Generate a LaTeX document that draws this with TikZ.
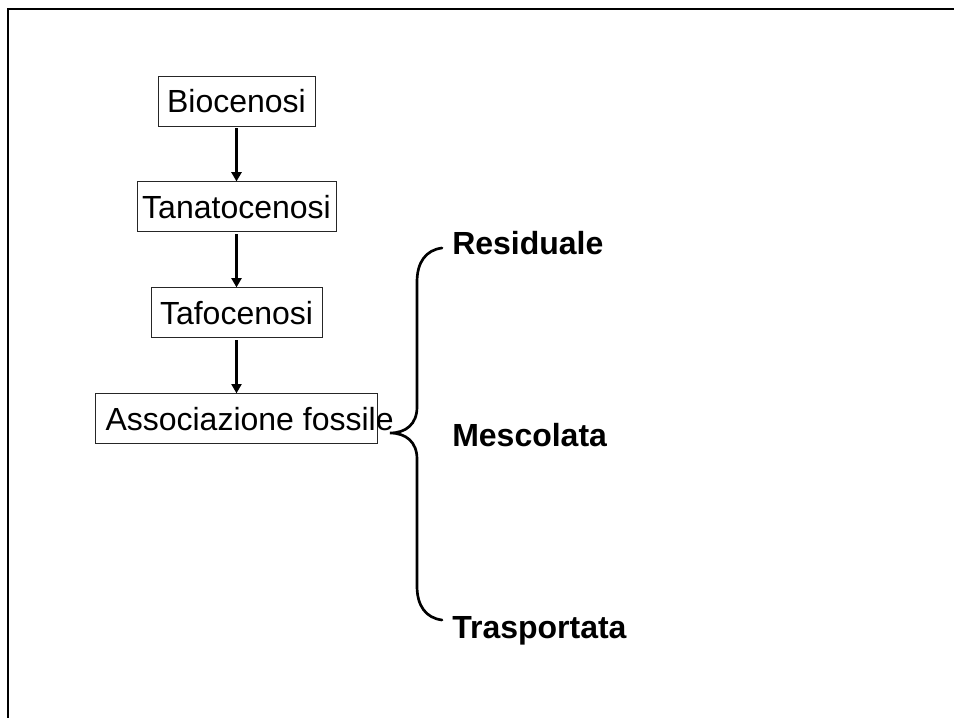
\documentclass[tikz,border=0pt]{standalone}
\usepackage{fontspec}
\setmainfont{Liberation Sans}
\usetikzlibrary{positioning,arrows.meta}

\begin{document}
\begin{tikzpicture}[
    x=0.75pt, y=-0.75pt,
    node distance=41.25pt,
    boxnode/.style={draw=black!85, line width=0.7pt, minimum height=37.5pt, inner xsep=2pt, inner ysep=0pt, font=\fontsize{24}{28}\selectfont},
    tagnode/.style={anchor=base west, inner sep=0pt, font=\fontsize{24}{28}\selectfont\bfseries},
    flow/.style={-{Triangle[length=7pt,width=7.5pt]}, line width=2.2pt, shorten <=1.5pt}
    ]
        \useasboundingbox (0,0) rectangle (954,718);
        %Frame
        \draw[line width=2pt] (8,718) -- (8,9) -- (954,9);

        %Nodes
        \node[boxnode, minimum width=117.75pt]
            (bio)   at (236.5,101)  {Biocenosi};
        \node[boxnode, minimum width=149.25pt]
            (tan)   [below=of bio]  {Tanatocenosi};
        \node[boxnode, minimum width=128.25pt]
            (taf)   [below=of tan]  {Tafocenosi};
        \node[boxnode, inner xsep=7.5pt]
            (foss)  [below=of taf]  {\makebox[196.5pt][l]{Associazione fossile}};

        \node[tagnode]  (res)   at (452,254)    {Residuale};
        \node[tagnode]  (mes)   at (452,446)    {Mescolata};
        \node[tagnode]  (tra)   at (452,638)    {Trasportata};

        %Lines
        \draw[flow] (bio.south) -- (tan.north);
        \draw[flow] (tan.south) -- (taf.north);
        \draw[flow] (taf.south) -- (foss.north);

        %Brace
        \coordinate (btop) at (442,248);
        \coordinate (btip) at (390,433);
        \coordinate (bbot) at (442,620);
        \draw[line width=2pt, line cap=round]
            (btop) .. controls (426,250) and (417,262) .. (417,282)
            -- (417,407) .. controls (417,424) and (406,433) .. (btip)
            .. controls (406,433) and (417,442) .. (417,459)
            -- (417,586) .. controls (417,606) and (426,618) .. (bbot);
    \end{tikzpicture}
\end{document}
